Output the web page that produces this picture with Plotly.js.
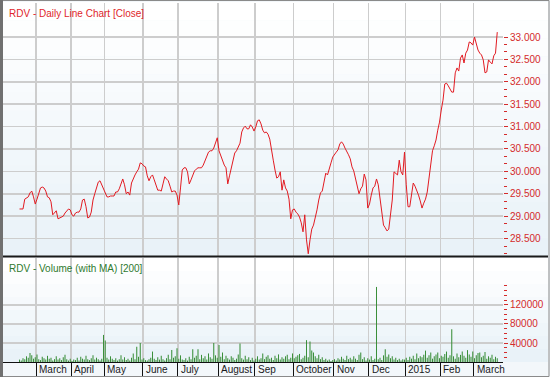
<!DOCTYPE html>
<html><head><meta charset="utf-8">
<script src="https://cdn.plot.ly/plotly-3.0.1.min.js"></script>
<style>html,body{margin:0;padding:0;background:#fff;}#chart{width:550px;height:377px;}</style>
</head><body><div id="chart"></div>
<script>
// ---- data (one value per trading session) ----
const closePrices = [
29.16,29.16,29.16,29.38,29.41,29.43,29.52,29.56,29.43,29.27,
29.38,29.52,29.63,29.65,29.63,29.56,29.43,29.41,29.32,29.03,
29.07,29.12,28.94,28.96,28.98,29.00,29.07,29.12,29.16,29.14,
29.03,29.00,29.07,29.09,29.09,29.16,29.36,29.38,29.21,28.96,
28.98,29.09,29.36,29.50,29.61,29.76,29.79,29.70,29.63,29.52,
29.43,29.43,29.45,29.45,29.45,29.54,29.54,29.61,29.74,29.83,
29.70,29.50,29.54,29.47,29.74,29.85,29.92,29.99,30.05,30.19,
30.17,30.12,30.10,29.90,29.79,29.88,29.92,29.81,29.70,29.58,
29.58,29.56,29.72,29.88,29.83,29.79,29.67,29.54,29.56,29.56,
29.47,29.25,29.63,30.03,30.08,30.08,29.99,29.72,29.81,29.90,
30.01,30.05,30.08,30.08,30.08,30.14,30.25,30.37,30.43,30.46,
30.46,30.52,30.66,30.75,30.46,30.34,30.23,30.14,30.08,29.72,
29.90,30.08,30.19,30.41,30.46,30.54,30.63,30.88,30.97,31.01,
30.95,30.95,31.04,30.99,30.90,30.99,31.13,31.15,31.06,30.92,
30.86,30.88,30.83,30.72,30.52,30.25,30.03,29.85,29.88,29.99,
29.58,29.81,29.63,29.56,29.38,28.94,29.14,29.16,29.09,29.05,
28.98,28.85,28.65,29.03,28.47,28.16,28.47,28.71,28.80,28.94,
29.14,29.36,29.52,29.56,29.81,29.96,29.92,30.03,30.19,30.32,
30.39,30.43,30.48,30.61,30.66,30.61,30.52,30.46,30.37,30.28,
30.10,30.01,29.83,29.65,29.50,29.61,29.67,29.94,29.81,29.18,
29.27,29.47,29.63,29.67,29.83,29.70,29.41,29.16,28.80,28.74,
28.67,28.71,28.98,29.36,29.99,29.96,29.92,30.25,29.99,29.92,
30.43,29.70,29.21,29.21,29.43,29.74,29.67,29.58,29.47,29.34,
29.18,29.29,29.38,29.54,29.88,30.17,30.46,30.57,30.70,30.92,
31.10,31.37,31.59,31.95,31.97,31.91,31.84,31.77,31.77,32.20,
32.31,32.24,32.53,32.60,32.42,32.64,32.71,32.89,32.87,32.82,
33.00,32.87,32.71,32.64,32.60,32.49,32.20,32.22,32.49,32.44,
32.40,32.58,32.64,33.11
];
const volumes = [
5000,3000,8000,6000,12000,9000,19000,14000,7000,10000,
16000,6000,4000,11000,8000,5000,13000,7000,9000,3000,
6000,12000,5000,8000,4000,10000,15000,6000,3000,7000,
2000,5000,4000,9000,3000,11000,7000,5000,13000,6000,
4000,8000,14000,5000,9000,6000,3000,7000,57000,45000,
9000,5000,12000,7000,4000,8000,3000,6000,14000,5000,
10000,4000,7000,3000,9000,18000,6000,32000,11000,40000,
5000,8000,4000,3000,6000,9000,22000,7000,4000,10000,
5000,13000,6000,3000,8000,15000,6000,25000,9000,12000,
29000,7000,14000,5000,4000,8000,3000,11000,6000,27000,
9000,13000,27000,6000,15000,8000,12000,5000,18000,10000,
7000,40000,14000,9000,36000,11000,20000,6000,13000,8000,
5000,12000,9000,4000,7000,16000,39000,8000,5000,13000,
6000,10000,4000,9000,3000,7000,12000,5000,8000,18000,
6000,11000,14000,7000,9000,4000,13000,8000,16000,5000,
10000,7000,12000,15000,6000,9000,18000,8000,11000,14000,
17000,6000,9000,13000,46000,10000,43000,24000,20000,12000,
8000,15000,6000,10000,4000,7000,3000,5000,2000,4000,
6000,3000,8000,5000,11000,7000,4000,13000,6000,9000,
5000,12000,7000,4000,15000,20000,6000,10000,3000,8000,
5000,12000,4000,7000,158000,6000,9000,4000,14000,27000,
11000,16000,8000,12000,5000,9000,4000,7000,3000,6000,
5000,9000,4000,11000,7000,13000,6000,18000,8000,12000,
10000,15000,24000,9000,14000,20000,7000,12000,16000,20000,
8000,13000,11000,17000,22000,9000,14000,69000,12000,7000,
18000,10000,15000,22000,13000,9000,25000,16000,11000,22000,
8000,14000,19000,20000,10000,13000,21000,7000,12000,9000,
15000,6000,11000,8000
];
// index of the first session of each month shown on the axis
const monthStartSession = [10,30,49,71,91,114,135,157,180,200,221,241,260];
const monthLabels = ['March','April','May','June','July','August','Sep','October','Nov','Dec','2015','Feb','March'];
const priceTicks = [28.5,29,29.5,30,30.5,31,31.5,32,32.5,33];
const volumeTicks = [40000,80000,120000];

// ---- geometry ----
const W = 550, H = 377, L = 3, R = 47, T = 3, B = 15;
const PW = W - L - R, PH = H - T - B;
const px2x = px => (px - L) / PW;
const py2y = py => (H - B - py) / PH;
const FONT = 'Liberation Sans, Arial, sans-serif';
const RED = '#d42b2b';

const sessions = closePrices.map((_, i) => i);

// minor tick marks (axis decoration) limited to the labelled span, as in the original
const priceMinor = [];
for (let k = 1; k <= 30; k++) priceMinor.push(28.0 + k / 6);
const volumeMinor = [];
for (let k = 1; k <= 16; k++) volumeMinor.push(k * 10000);

const traces = [
  {type: 'scatter', mode: 'lines', x: sessions, y: closePrices, xaxis: 'x', yaxis: 'y',
   line: {color: '#e21b22', width: 1}, hoverinfo: 'skip'},
  {type: 'bar', x: sessions, y: volumes, xaxis: 'x', yaxis: 'y2', width: 0.6,
   marker: {color: '#3a8f3a', line: {width: 0}}, hoverinfo: 'skip'}
];

// background gradient bands
const shapes = [];
function bands(top, bottom, n) {
  for (let k = 0; k < n; k++) {
    const t = k / (n - 1);
    const r = Math.round(255 - t * 22), g = Math.round(255 - t * 13), b = Math.round(255 - t * 7);
    const y0 = top + (bottom - top) * k / n, y1 = top + (bottom - top) * (k + 1) / n;
    shapes.push({type: 'rect', xref: 'paper', yref: 'paper', layer: 'below',
      x0: px2x(3), x1: px2x(548), y0: py2y(y1), y1: py2y(y0),
      fillcolor: `rgb(${r},${g},${b})`, line: {width: 0}});
  }
}
bands(2, 256, 14);
bands(258, 362, 8);
// panel separator
shapes.push({type: 'line', xref: 'paper', yref: 'paper', x0: px2x(3), x1: px2x(548),
  y0: py2y(256.5), y1: py2y(256.5), line: {color: '#1a1a1a', width: 2}});
// outer frame
shapes.push({type: 'rect', xref: 'paper', yref: 'paper', x0: px2x(0.5), x1: px2x(549), y0: py2y(376.5), y1: py2y(0.5),
  line: {color: '#8a8a8a', width: 1}});
shapes.push({type: 'line', xref: 'paper', yref: 'paper', x0: px2x(1.5), x1: px2x(1.5), y0: py2y(377), y1: py2y(0),
  line: {color: '#707070', width: 3}});

const annotations = [
  {xref: 'paper', yref: 'paper', x: px2x(7), y: py2y(13), xanchor: 'left', yanchor: 'middle',
   text: 'RDV - Daily Line Chart [Close]', showarrow: false, font: {family: FONT, size: 10, color: '#e0262b'}},
  {xref: 'paper', yref: 'paper', x: px2x(7), y: py2y(268), xanchor: 'left', yanchor: 'middle',
   text: 'RDV - Volume (with MA) [200]', showarrow: false, font: {family: FONT, size: 10, color: '#2e7a2e'}}
];
monthStartSession.forEach((s, i) => {
  annotations.push({xref: 'x', yref: 'paper', x: s - 0.5, y: py2y(369.5), xanchor: 'left', yanchor: 'middle',
    xshift: 1, text: monthLabels[i], showarrow: false, font: {family: FONT, size: 10, color: '#1a1a1a'}});
});

const x0 = (L - 19.5) / 1.75, x1 = (L + PW - 19.5) / 1.75;
const layout = {
  width: W, height: H, margin: {l: L, r: R, t: T, b: B, pad: 0},
  paper_bgcolor: '#f3f7fa', plot_bgcolor: 'rgba(0,0,0,0)', showlegend: false,
  font: {family: FONT, size: 10},
  xaxis: {range: [x0, x1], anchor: 'y2', tickmode: 'array', tickvals: monthStartSession.map(s => s - 0.5),
    showticklabels: false, ticks: 'outside', ticklen: 14, tickwidth: 1, tickcolor: '#111',
    showgrid: true, gridcolor: '#cdcdcd', gridwidth: 1.5, showline: true, linecolor: '#111', linewidth: 1,
    zeroline: false, fixedrange: true},
  yaxis: {domain: [py2y(256), 1], range: [28.11, 33.76], side: 'right', anchor: 'x',
    tickmode: 'array', tickvals: priceTicks, tickformat: '.3f', ticks: 'outside', ticklen: 4, tickcolor: RED,
    tickfont: {family: FONT, size: 10, color: RED}, showgrid: true, gridcolor: '#cdcdcd', gridwidth: 1.5,
    zeroline: false, showline: false,
    minor: {tickmode: 'array', tickvals: priceMinor, ticks: 'outside', ticklen: 3, tickcolor: RED, showgrid: false}},
  yaxis2: {domain: [0, py2y(258)], range: [0, 218900], side: 'right', anchor: 'x',
    tickmode: 'array', tickvals: volumeTicks, tickformat: 'd', ticks: 'outside', ticklen: 4, tickcolor: RED,
    tickfont: {family: FONT, size: 10, color: RED}, showgrid: true, gridcolor: '#cdcdcd', gridwidth: 1.5,
    zeroline: false, showline: false,
    minor: {tickmode: 'array', tickvals: volumeMinor, ticks: 'outside', ticklen: 3, tickcolor: RED, showgrid: false}},
  shapes: shapes, annotations: annotations
};
Plotly.newPlot('chart', traces, layout, {staticPlot: true, displayModeBar: false});
</script></body></html>
